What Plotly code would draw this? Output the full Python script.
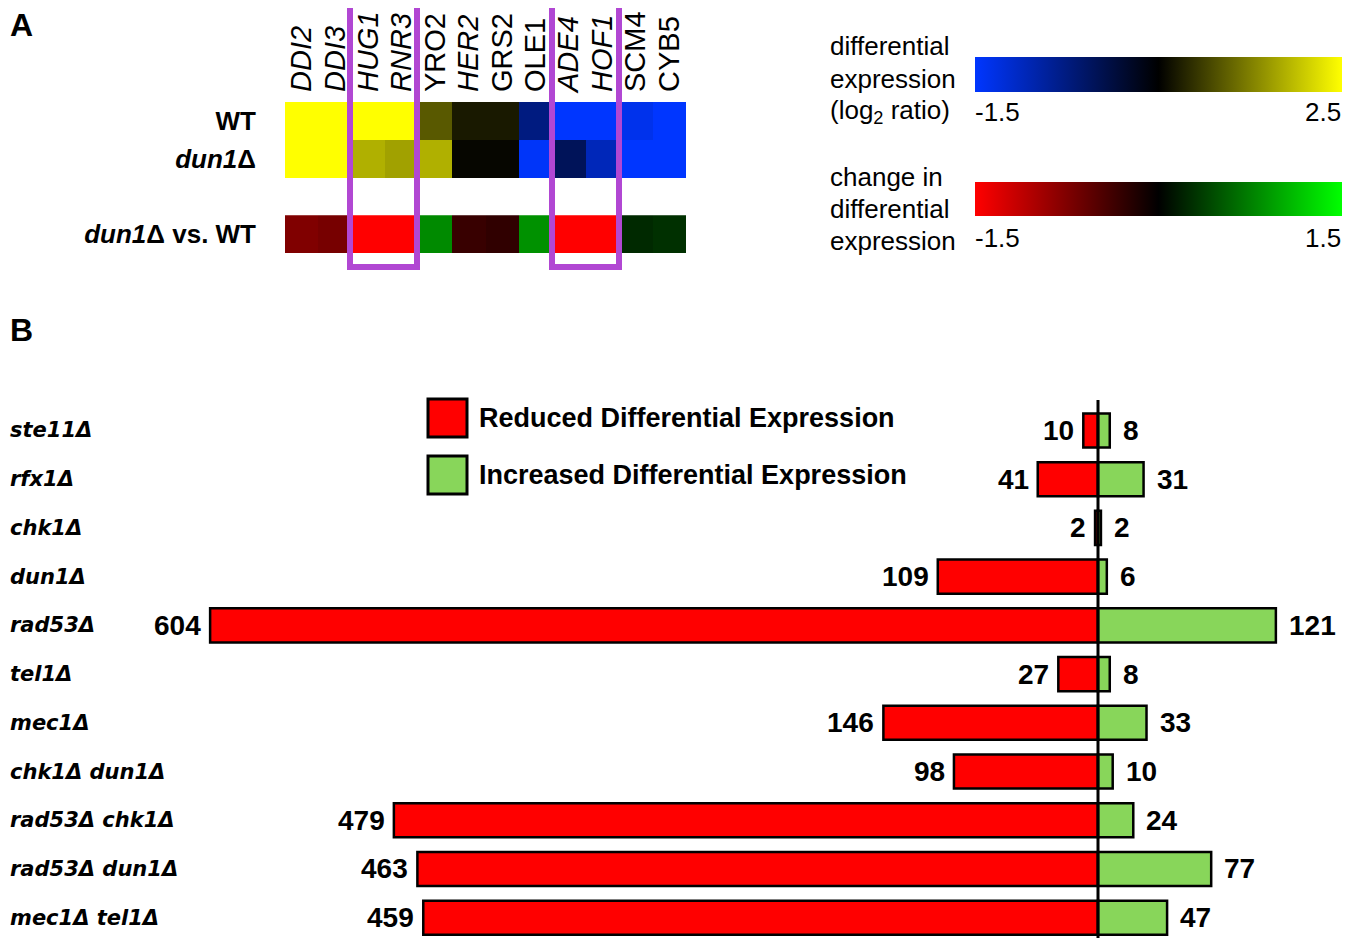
import plotly.graph_objects as go

OFF = 8  # page body margin of the browser
W, H = 1359 - OFF, 938 - OFF

# ---------------- data ----------------
genes = ["DDI2", "DDI3", "HUG1", "RNR3", "YRO2", "HER2", "GRS2", "OLE1", "ADE4", "HOF1", "SCM4", "CYB5"]
gene_italic = [True, True, True, True, False, True, False, False, True, True, False, False]
wt_expr = [2.5, 2.5, 2.5, 2.5, 1.2, 0.7, 0.7, -0.5, -1.5, -1.5, -1.35, -1.5]
dun1_expr = [2.5, 2.5, 1.88, 1.76, 1.88, 0.55, 0.55, -1.45, -0.2, -0.95, -1.5, -1.5]
change_expr = [-0.75, -0.7, -1.5, -1.5, 0.81, -0.33, -0.28, 0.85, -1.5, -1.5, 0.24, 0.28]
row_labels = ["<b>WT</b>", "<b><i>dun1</i>Δ</b>", "<b><i>dun1</i>Δ vs. WT</b>"]
row_pos = [0, 1, 3]

strains = ["ste11Δ", "rfx1Δ", "chk1Δ", "dun1Δ", "rad53Δ", "tel1Δ", "mec1Δ",
           "chk1Δ dun1Δ", "rad53Δ chk1Δ", "rad53Δ dun1Δ", "mec1Δ tel1Δ"]
reduced = [10, 41, 2, 109, 604, 27, 146, 98, 479, 463, 459]
increased = [8, 31, 2, 6, 121, 8, 33, 10, 24, 77, 47]


def px(x):
    return (x - OFF) / W


def py(y):
    return 1 - (y - OFF) / H


blue_yellow = [[0.0, "#0036ff"], [0.5, "#000000"], [1.0, "#ffff00"]]
red_green = [[0.0, "#ff0000"], [0.5, "#000000"], [1.0, "#00ff00"]]

fig = go.Figure()

# ---------------- panel A heatmaps ----------------
gx = list(range(len(genes)))
fig.add_trace(go.Heatmap(
    z=[wt_expr, dun1_expr], x=gx, y=[0, 1], xaxis="x2", yaxis="y2",
    colorscale=blue_yellow, zmin=-1.5, zmax=2.5,
    colorbar=dict(orientation="h", x=px(975), xanchor="left", y=py(57), yanchor="top",
                  lenmode="pixels", len=367, thickness=35, xpad=0, ypad=0,
                  outlinewidth=0, showticklabels=False, ticks=""),
    hoverinfo="skip",
))
fig.add_trace(go.Heatmap(
    z=[change_expr], x=gx, y=[3], xaxis="x2", yaxis="y2",
    colorscale=red_green, zmin=-1.5, zmax=1.5,
    colorbar=dict(orientation="h", x=px(975), xanchor="left", y=py(182), yanchor="top",
                  lenmode="pixels", len=367, thickness=34, xpad=0, ypad=0,
                  outlinewidth=0, showticklabels=False, ticks=""),
    hoverinfo="skip",
))

# ---------------- panel B bars ----------------
yi = list(range(len(strains)))
fig.add_trace(go.Bar(
    x=[-v for v in reduced], y=yi, orientation="h", width=0.7,
    marker=dict(color="#ff0000", line=dict(color="black", width=2.5)),
    showlegend=False, hoverinfo="skip",
))
fig.add_trace(go.Bar(
    x=increased, y=yi, orientation="h", width=0.7,
    marker=dict(color="#88d65a", line=dict(color="black", width=2.5)),
    showlegend=False, hoverinfo="skip",
))

annotations = []
num_font = dict(family="Liberation Sans, Arial", size=28, color="black")
for i, (r, g) in enumerate(zip(reduced, increased)):
    annotations.append(dict(x=-r, y=i, xref="x", yref="y", text=f"<b>{r}</b>", showarrow=False,
                            xanchor="right", yanchor="middle", xshift=-7, font=num_font))
    annotations.append(dict(x=g, y=i, xref="x", yref="y", text=f"<b>{g}</b>", showarrow=False,
                            xanchor="left", yanchor="middle", xshift=11, font=num_font))
    annotations.append(dict(x=0, y=i, xref="paper", yref="y", text=f"<b><i>{strains[i]}</i></b>",
                            showarrow=False, xanchor="left", yanchor="middle",
                            font=dict(family="DejaVu Sans", size=21, color="black")))

# panel letters
for letter, yy in [("A", 25), ("B", 330)]:
    annotations.append(dict(x=px(8), y=py(yy), xref="paper", yref="paper", text=f"<b>{letter}</b>",
                            showarrow=False, xanchor="left", yanchor="middle",
                            font=dict(family="Liberation Sans, Arial", size=32, color="black")))

# colorbar titles and tick labels
cb_font = dict(family="Liberation Sans, Arial", size=26, color="black")
for txt, yy in [("differential", 46), ("expression", 79), ("(log<sub>2</sub> ratio)", 112),
                ("change in", 177), ("differential", 209), ("expression", 241)]:
    annotations.append(dict(x=px(828), y=py(yy), xref="paper", yref="paper", text=txt,
                            showarrow=False, xanchor="left", yanchor="middle", font=cb_font))
for txt, xx, anc, yy in [("-1.5", 973, "left", 112), ("2.5", 1343, "right", 112),
                         ("-1.5", 973, "left", 238), ("1.5", 1343, "right", 238)]:
    annotations.append(dict(x=px(xx), y=py(yy), xref="paper", yref="paper", text=txt,
                            showarrow=False, xanchor=anc, yanchor="middle", font=cb_font))

# legend
leg_font = dict(family="Liberation Sans, Arial", size=27, color="black")
annotations.append(dict(x=px(477), y=py(418), xref="paper", yref="paper",
                        text="<b>Reduced Differential Expression</b>", showarrow=False,
                        xanchor="left", yanchor="middle", font=leg_font))
annotations.append(dict(x=px(477), y=py(475), xref="paper", yref="paper",
                        text="<b>Increased Differential Expression</b>", showarrow=False,
                        xanchor="left", yanchor="middle", font=leg_font))

shapes = [
    dict(type="rect", xref="paper", yref="paper", x0=px(428), x1=px(467), y0=py(399), y1=py(437),
         fillcolor="#ff0000", line=dict(color="black", width=3)),
    dict(type="rect", xref="paper", yref="paper", x0=px(428), x1=px(467), y0=py(456), y1=py(494),
         fillcolor="#88d65a", line=dict(color="black", width=3)),
    # zero line
    dict(type="line", xref="x", yref="paper", x0=0, x1=0, y0=0, y1=py(400),
         line=dict(color="black", width=3)),
    # purple highlight boxes
    dict(type="rect", xref="paper", yref="paper", x0=px(350), x1=px(417), y0=py(3), y1=py(267),
         line=dict(color="#b147d3", width=6)),
    dict(type="rect", xref="paper", yref="paper", x0=px(552), x1=px(619), y0=py(3), y1=py(267),
         line=dict(color="#b147d3", width=6)),
]

gene_text = [f"<i>{g}</i>" if it else g for g, it in zip(genes, gene_italic)]

scale = 1.47  # px per gene count
fig.update_layout(
    width=W, height=H,
    margin=dict(l=0, r=0, t=0, b=0),
    paper_bgcolor="white", plot_bgcolor="white",
    barmode="overlay",
    showlegend=False,
    xaxis=dict(domain=[0, 1], range=[-(1098 - OFF) / scale, (1359 - 1098) / scale],
               visible=False, fixedrange=True),
    yaxis=dict(domain=[0, py(400)], range=[10.583 - OFF / 48.0, -0.625], visible=False, fixedrange=True),
    xaxis2=dict(domain=[px(285), px(686)], range=[-0.5, 11.5], anchor="y2", side="top",
                tickvals=gx, ticktext=gene_text, tickangle=-90, ticks="", showgrid=False,
                zeroline=False, showline=False, ticklabelstandoff=9,
                tickfont=dict(family="Liberation Sans, Arial", size=29, color="black")),
    yaxis2=dict(domain=[py(253), py(102)], range=[3.5, -0.5], anchor="x2",
                tickvals=row_pos, ticktext=row_labels, ticks="", showgrid=False,
                zeroline=False, showline=False, ticklabelstandoff=28,
                tickfont=dict(family="Liberation Sans, Arial", size=26, color="black")),
    annotations=annotations,
    shapes=shapes,
)

fig.write_html("out.html")
